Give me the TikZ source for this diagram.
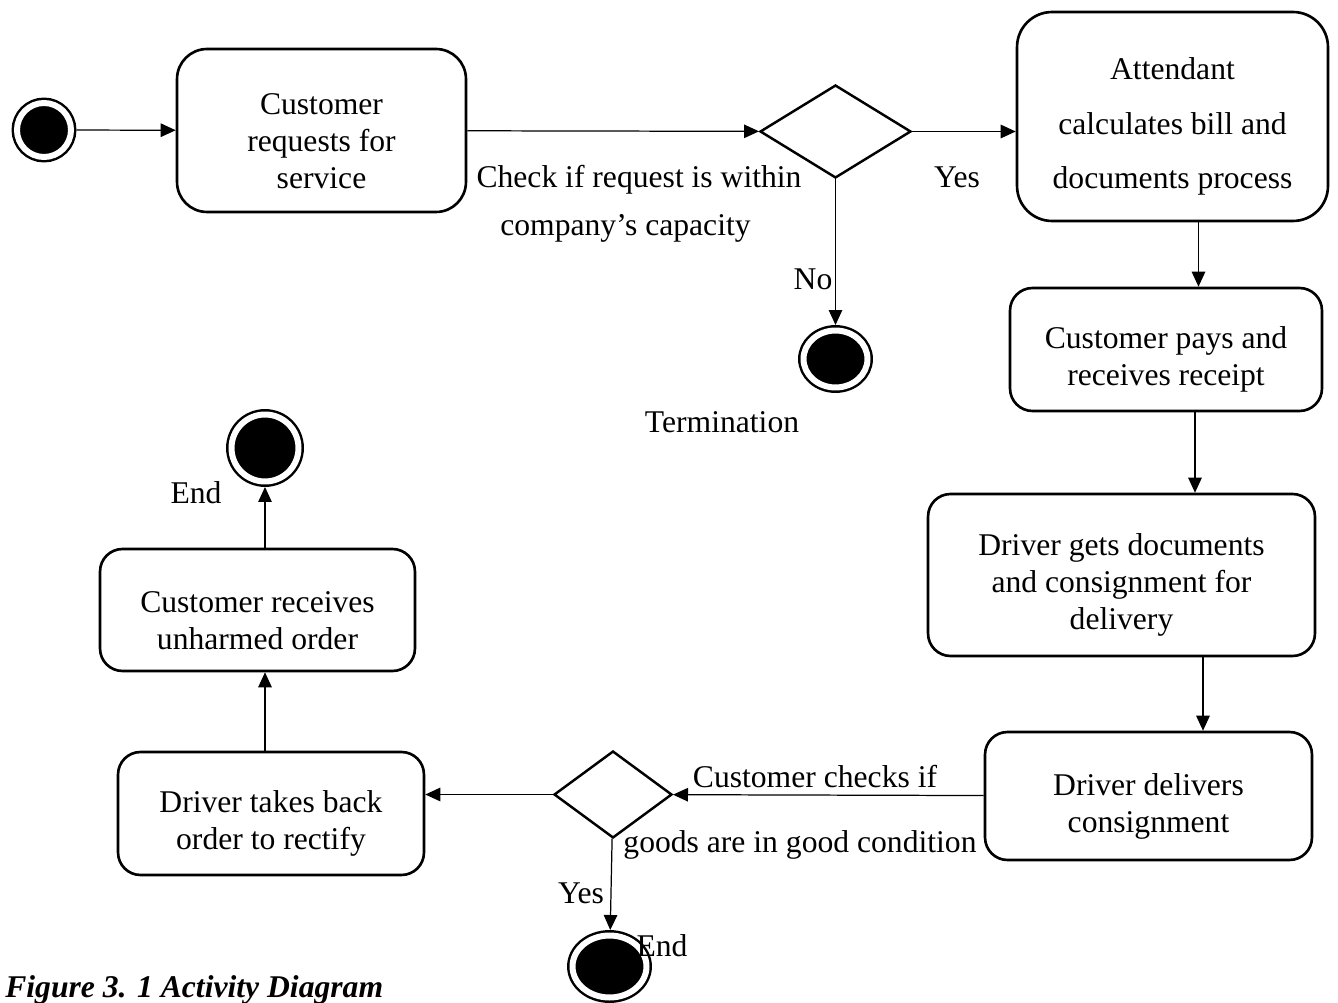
\documentclass[tikz,border=0pt]{standalone}
\usepackage{fontspec}
\setmainfont{Liberation Serif}
\usepackage{tikz}
\usetikzlibrary{shapes.geometric,arrows.meta}
\newcommand{\topgap}{\rule{0pt}{24pt}}

\begin{document}
\begin{tikzpicture}[x=0.02cm, y=-0.02cm, font=\fontsize{18}{21}\selectfont,
  act/.style={rectangle, rounded corners=0.45cm, draw, line width=1.5pt, align=center, inner sep=0pt},
  decision/.style={diamond, draw, line width=1.4pt, inner sep=0pt},
  stop/.style={ellipse, draw, fill=black, double=white, double distance=0.12cm, line width=1.4pt, inner sep=0pt, outer sep=0.11cm},
  flow/.style={-{Triangle[length=0.3cm, width=0.27cm]}, line width=0.7pt},
  lbl/.style={anchor=base, inner sep=0pt}]
  \useasboundingbox (0,0) rectangle (1338,1003);
  \clip (0,0) rectangle (1338,1003);
  % activities
  \node (s0) [stop, minimum width=1.08cm, minimum height=1.08cm] at (44,130) {};
  \node (b1) [act, minimum width=5.78cm, minimum height=3.26cm, rounded corners=0.6cm] at (321.5,130.5) {\topgap Customer\\requests for\\service};
  \node (d1) [decision, minimum width=3.02cm, minimum height=1.86cm] at (835.5,131.5) {};
  \node (b2) [act, minimum width=6.22cm, minimum height=4.18cm, rounded corners=0.7cm] at (1172.5,116.5) {\topgap Attendant\\[10pt]calculates bill and\\[10pt]documents process};
  \node (e1) [stop, minimum width=1.28cm, minimum height=1.14cm] at (835.5,359) {};
  \node (b3) [act, minimum width=6.24cm, minimum height=2.46cm] at (1166,349.5) {\topgap Customer pays and\\receives receipt};
  \node (b4) [act, minimum width=7.74cm, minimum height=3.24cm] at (1121.5,575) {\topgap Driver gets documents\\and consignment for\\delivery};
  \node (b5) [act, minimum width=6.54cm, minimum height=2.56cm] at (1148.5,796) {\topgap Driver delivers\\consignment};
  \node (d2) [decision, minimum width=2.36cm, minimum height=1.74cm] at (613,794.5) {};
  \node (b6) [act, minimum width=6.12cm, minimum height=2.46cm] at (271,813.5) {\topgap Driver takes back\\order to rectify};
  \node (b7) [act, minimum width=6.3cm, minimum height=2.44cm] at (257.5,610) {\topgap Customer receives\\unharmed order};
  \node (e2) [stop, minimum width=1.34cm, minimum height=1.34cm] at (265,448) {};
  \node (e3) [stop, minimum width=1.48cm, minimum height=1.24cm] at (609.5,966.5) {};
  % flows
  \draw[flow] (s0) -- (b1);
  \draw[flow] (b1) -- (d1);
  \draw[flow] (d1) -- (d1 -| b2.west);
  \draw[flow] (d1) -- (e1);
  \draw[flow] ([xshift=0.52cm]b2.south) -- ([xshift=0.52cm]b2.south |- b3.north);
  \draw[flow] ([xshift=0.58cm]b3.south) -- ([xshift=0.58cm]b3.south |- b4.north);
  \draw[flow] ([xshift=1.63cm]b4.south) -- ([xshift=1.63cm]b4.south |- b5.north);
  \draw[flow] (b5) -- (d2);
  \draw[flow] (d2) -- (d2 -| b6.east);
  \draw[flow] (d2) -- (e3);
  \draw[flow] ([xshift=-0.12cm]b6.north) -- ([xshift=-0.12cm]b6.north |- b7.south);
  \draw[flow] (b7.north -| e2) -- (e2);
  % labels
  \node (l1) [lbl] at (639,188) {Check if request is within};
  \node (l2) [lbl] at (625.5,236) {company’s capacity};
  \node (l3) [lbl] at (957,188) {Yes};
  \node (l4) [lbl] at (813,290) {No};
  \node (l5) [lbl] at (722,432) {Termination};
  \node (l6) [lbl] at (196,503) {End};
  \node (l7) [lbl] at (815,787) {Customer checks if};
  \node (l8) [lbl] at (800,852) {goods are in good condition};
  \node (l9) [lbl] at (581,903) {Yes};
  \node (l10) [lbl] at (662,956) {End};
  \node (cap) [lbl, anchor=base west, font=\fontsize{18}{21}\selectfont\bfseries\itshape] at (5,997) {Figure 3. 1 Activity Diagram};
\end{tikzpicture}
\end{document}
